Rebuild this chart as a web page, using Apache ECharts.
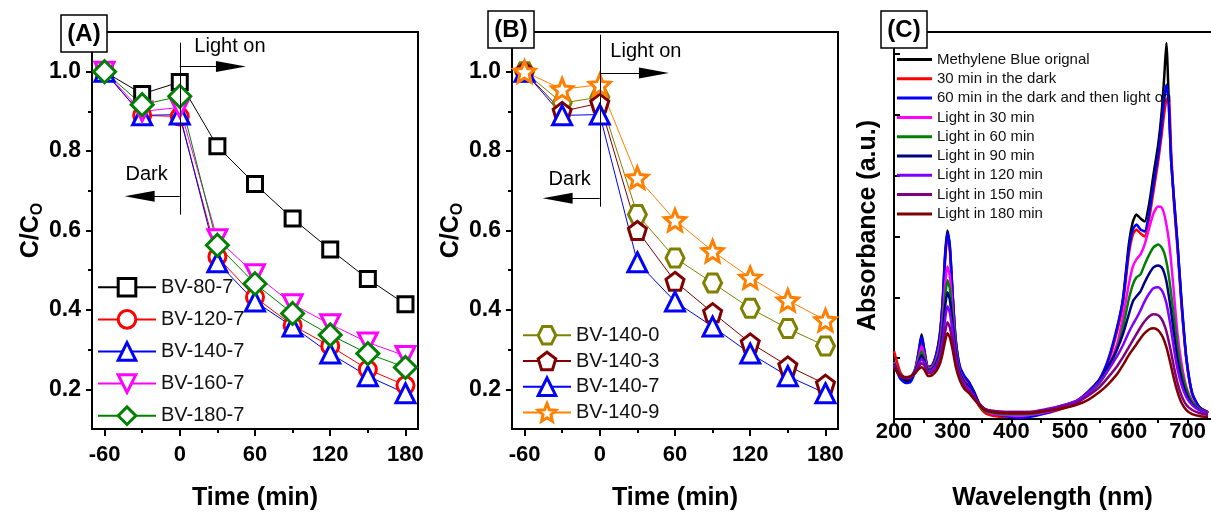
<!DOCTYPE html>
<html>
<head>
<meta charset="utf-8" />
<title>photocatalysis</title>
<script src="https://cdn.jsdelivr.net/npm/echarts@6/dist/echarts.min.js"></script>
<style>
  body { margin: 0; background: #fff; }
  #main { width: 1211px; height: 516px; }
</style>
</head>
<body>
<div id="main"></div>
<script type="text/javascript">
	// ---------- panel A / B : C/Co vs time ----------
	var timeMin = [-60, -30, 0, 30, 60, 90, 120, 150, 180];

	var bv80_7  = [1.0, 0.944, 0.974, 0.812, 0.717, 0.630, 0.552, 0.478, 0.414];
	var bv120_7 = [1.0, 0.890, 0.887, 0.534, 0.432, 0.361, 0.309, 0.250, 0.210];
	var bv140_7 = [1.0, 0.890, 0.892, 0.520, 0.421, 0.358, 0.290, 0.233, 0.190];
	var bv160_7 = [1.0, 0.900, 0.910, 0.578, 0.490, 0.414, 0.364, 0.318, 0.284];
	var bv180_7 = [1.0, 0.917, 0.938, 0.563, 0.466, 0.391, 0.337, 0.290, 0.255];

	var bv140_0 = [1.0, 0.921, 0.936, 0.640, 0.531, 0.468, 0.404, 0.353, 0.309];
	var bv140_3 = [1.0, 0.900, 0.921, 0.600, 0.472, 0.393, 0.317, 0.259, 0.213];
	var bv140_9 = [1.0, 0.956, 0.967, 0.733, 0.626, 0.548, 0.481, 0.424, 0.374];

	var timeTicks = [-60, 0, 60, 120, 180];
	var timeMinor = [-30, 30, 90, 150];
	var ratioTicks = [0.2, 0.4, 0.6, 0.8, 1.0];
	var ratioMinor = [0.3, 0.5, 0.7, 0.9];

	// ---------- panel C : UV-vis spectra ----------
	var wavelength = [200,210,220,228,236,242,247,252,258,265,272,278,283,287,291,295,300,305,312,320,328,336,345,355,370,
		390,410,430,460,490,510,530,550,565,580,590,600,607,613,620,627,635,642,650,656,660,664,668,672,677,683,690,698,708,720,735];

	var mbOriginal = [.58,.43,.38,.39,.50, .68,.85,.68,.52,.54, .65,.85,1.20,1.65,1.89, 1.75,1.25,.80,.52,.42, .36,.28,.16,.10,.07,
		.06,.05,.05,.07,.12, .17,.26,.39,.58,.90, 1.20,1.75,1.98,2.05,2.01, 1.98,2.17,2.45,2.75,3.08, 3.40,3.77,3.20,2.60,2.20, 1.75,1.15,.60,.25,.12, .07];
	var dark30 = [.68,.48,.40,.40,.49, .64,.79,.65,.51,.53, .63,.81,1.15,1.58,1.83, 1.70,1.22,.78,.50,.40, .33,.24,.13,.06,.03,
		.02,.03,.04,.06,.11, .16,.25,.38,.57,.88, 1.15,1.65,1.85,1.90,1.86, 1.83,2.02,2.28,2.58,2.85, 3.05,3.20,3.23,2.70,2.15, 1.70,1.12,.60,.25,.12, .06];
	var dark60 = [.55,.41,.36,.37,.48, .66,.83,.67,.51,.53, .64,.83,1.18,1.62,1.87, 1.73,1.23,.80,.53,.43, .37,.27,.15,.08,.05,
		.03,.01,.02,.06,.12, .17,.27,.40,.60,.92, 1.20,1.70,1.90,1.95,1.90, 1.88,2.08,2.35,2.65,2.95, 3.20,3.35,3.15,2.60,2.20, 1.75,1.17,.62,.26,.12, .06];
	var light30 = [.57,.45,.41,.42,.50, .62,.73,.63,.51,.52, .60,.75,1.02,1.35,1.53, 1.44,1.10,.73,.48,.38, .32,.24,.14,.08,.05,
		.04,.03,.04,.07,.12, .17,.25,.37,.52,.75, 1.02,1.35,1.53,1.60,1.65, 1.75,1.92,2.06,2.13,2.12, 2.06,1.95,1.80,1.58,1.25, .85,.55,.32,.18,.10, .06];
	var light60 = [.56,.45,.41,.42,.49, .59,.68,.60,.50,.51, .58,.70,.94,1.22,1.39, 1.31,1.02,.70,.47,.37, .31,.23,.14,.08,.06,
		.05,.05,.05,.08,.13, .17,.25,.36,.50,.70, .92,1.20,1.35,1.42,1.45, 1.55,1.65,1.72,1.75,1.72, 1.67,1.58,1.44,1.26,1.02, .72,.47,.30,.17,.10, .06];
	var light90 = [.55,.44,.40,.41,.48, .57,.64,.58,.49,.50, .56,.67,.87,1.12,1.27, 1.20,.95,.67,.46,.37, .32,.24,.15,.09,.07,
		.06,.06,.06,.09,.14, .18,.27,.39,.53,.70, .85,1.05,1.18,1.23,1.28, 1.37,1.46,1.52,1.54,1.52, 1.47,1.38,1.24,1.08,.85, .60,.40,.25,.15,.09, .06];
	var light120 = [.54,.44,.41,.42,.47, .55,.60,.56,.48,.49, .54,.63,.80,1.00,1.13, 1.07,.87,.63,.44,.35, .30,.23,.15,.10,.08,
		.07,.07,.07,.10,.14, .18,.26,.37,.49,.63, .74,.87,.95,1.01,1.09, 1.18,1.26,1.31,1.32,1.29, 1.24,1.16,1.04,.90,.70, .50,.34,.22,.14,.09, .06];
	var light150 = [.53,.43,.41,.42,.46, .52,.56,.53,.46,.47, .51,.59,.72,.87,.97, .92,.77,.58,.42,.33, .28,.22,.15,.10,.08,
		.07,.07,.07,.09,.13, .16,.23,.32,.42,.53, .62,.72,.79,.85,.92, .98,1.03,1.05,1.04,1.00, .95,.88,.78,.67,.52, .36,.23,.14,.09,.06, .04];
	var light180 = [.52,.44,.42,.43,.46, .50,.52,.49,.43,.44, .48,.55,.66,.78,.86, .82,.69,.53,.39,.30, .26,.20,.14,.09,.07,
		.06,.06,.06,.08,.11, .14,.19,.27,.35,.45, .54,.64,.70,.75,.81, .86,.90,.91,.89,.84, .79,.72,.63,.53,.40, .27,.16,.09,.05,.03, .02];

	var waveTicks = [200, 300, 400, 500, 600, 700];
	var waveAllTicks = [200, 250, 300, 350, 400, 450, 500, 550, 600, 650, 700];
	var absTicks = [0, 0.61, 1.22, 1.83, 2.44, 3.05, 3.66];

	var FONT = 'Liberation Sans, Arial, sans-serif';

	var hexagon = 'path://M-1,0 L-0.5,-0.866 L0.5,-0.866 L1,0 L0.5,0.866 L-0.5,0.866 Z';
	var pentagon = 'path://M0,-1 L0.951,-0.309 L0.588,0.809 L-0.588,0.809 L-0.951,-0.309 Z';
	var star = 'path://M0,-1 L0.264,-0.363 L0.951,-0.309 L0.427,0.139 L0.588,0.809 L0,0.45 L-0.588,0.809 L-0.427,0.139 L-0.951,-0.309 L-0.264,-0.363 Z';

	window.onload = function () {
		draw();
	};

	function pair(xs, ys) {
		var out = [];
		for (var i = 0; i < xs.length; i++) out.push([xs[i], ys[i]]);
		return out;
	}

	/************************ 散点折线 ************************/
	function kinetic(name, data, color, symbol, size, idx, rotate) {
		return {
			name: name,
			type: 'line',
			xAxisIndex: idx,
			yAxisIndex: idx,
			data: pair(timeMin, data),
			symbol: symbol,
			symbolSize: size,
			symbolRotate: rotate || 0,
			showAllSymbol: true,
			lineStyle: { color: color, width: 1 },
			itemStyle: { color: '#fff', borderColor: color, borderWidth: 3 },
			emphasis: { disabled: true },
			z: 3
		};
	}

	function spectrum(name, data, color) {
		return {
			name: name,
			type: 'line',
			xAxisIndex: 4,
			yAxisIndex: 4,
			data: pair(wavelength, data),
			showSymbol: false,
			symbol: 'none',
			smooth: 0.2,
			lineStyle: { color: color, width: 2.5 },
			itemStyle: { color: color },
			emphasis: { disabled: true }
		};
	}

	function timeAxis(grid) {
		return {
			type: 'value', gridIndex: grid, min: -70, max: 190, position: 'bottom',
			name: 'Time (min)', nameLocation: 'middle', nameGap: 57,
			nameTextStyle: { fontSize: 25, fontWeight: 'bold', color: '#000', fontFamily: FONT },
			axisLine: { onZero: false, lineStyle: { color: '#000', width: 2 } },
			axisTick: { customValues: timeTicks, length: 7, lineStyle: { color: '#000', width: 2 } },
			axisLabel: { customValues: timeTicks, margin: 15, fontSize: 22, fontWeight: 'bold', color: '#000', fontFamily: FONT },
			splitLine: { show: false }
		};
	}
	function timeMinorAxis(grid) {
		return {
			type: 'value', gridIndex: grid, min: -70, max: 190, position: 'bottom',
			axisLine: { show: false, onZero: false },
			axisTick: { customValues: timeMinor, length: 4, lineStyle: { color: '#000', width: 2 } },
			axisLabel: { show: false },
			splitLine: { show: false }
		};
	}
	function ratioAxis(grid) {
		return {
			type: 'value', gridIndex: grid, min: 0.1, max: 1.1, position: 'left',
			name: 'C/C{s|O}', nameLocation: 'middle', nameGap: 46,
			nameTextStyle: {
				fontSize: 25, fontWeight: 'bold', color: '#000', fontFamily: FONT,
				rich: { s: { fontSize: 16, fontWeight: 'bold', fontFamily: FONT, color: '#000', padding: [12, 0, 0, 0] } }
			},
			axisLine: { onZero: false, lineStyle: { color: '#000', width: 2 } },
			axisTick: { customValues: ratioTicks, length: 6, lineStyle: { color: '#000', width: 2 } },
			axisLabel: {
				customValues: ratioTicks, margin: 11, fontSize: 23, fontWeight: 'bold', color: '#000', fontFamily: FONT,
				formatter: function (v) { return v.toFixed(1); }
			},
			splitLine: { show: false }
		};
	}
	function ratioMinorAxis(grid) {
		return {
			type: 'value', gridIndex: grid, min: 0.1, max: 1.1, position: 'left',
			axisLine: { show: false, onZero: false },
			axisTick: { customValues: ratioMinor, length: 4, lineStyle: { color: '#000', width: 2 } },
			axisLabel: { show: false },
			splitLine: { show: false }
		};
	}

	function lightMarks(vTop, vBot, yOn, xOn, yDark, xDark, textOn, textDark) {
		return {
			markLine: {
				silent: true, animation: false,
				symbol: 'none',
				label: { show: false },
				lineStyle: { color: '#000', width: 1, type: 'solid' },
				emphasis: { disabled: true },
				data: [
					[{ coord: [0, vTop] }, { coord: [0, vBot] }],
					[{ coord: [0, yOn] }, { coord: [xOn, yOn], symbol: 'triangle', symbolSize: [11, 30] }],
					[{ coord: [0, yDark] }, { coord: [xDark, yDark], symbol: 'triangle', symbolSize: [11, 30] }]
				]
			},
			markPoint: {
				silent: true, animation: false,
				symbol: 'circle', symbolSize: 1,
				itemStyle: { color: 'rgba(0,0,0,0)', borderWidth: 0 },
				label: { show: true, position: 'inside', formatter: '{b}', color: '#000', fontSize: 20, fontFamily: FONT },
				data: [
					{ name: 'Light on', coord: textOn },
					{ name: 'Dark', coord: textDark }
				]
			}
		};
	}

	function panelLabel(txt, x, y) {
		return {
			type: 'group', x: x, y: y, z: 100,
			children: [
				{ type: 'rect', z: 100, shape: { x: 0, y: 0, width: 46, height: 37 }, style: { fill: '#fff', stroke: '#000', lineWidth: 1.5 } },
				{ type: 'text', z: 101, x: 23, y: 19, style: { text: txt, font: 'bold 24px ' + FONT, fill: '#000', align: 'center', verticalAlign: 'middle' } }
			]
		};
	}

	function draw() {
		var myChart = echarts.init(document.getElementById('main'), null, { renderer: 'canvas' });

		var sA = [
			kinetic('BV-80-7', bv80_7, '#000000', 'rect', 15, 0),
			kinetic('BV-120-7', bv120_7, '#ff0000', 'circle', 17, 0),
			kinetic('BV-140-7', bv140_7, '#0000ff', 'triangle', 19, 0),
			kinetic('BV-160-7', bv160_7, '#ff00ff', 'triangle', 19, 0, 180),
			kinetic('BV-180-7', bv180_7, '#008000', 'diamond', 22, 0)
		];
		var mA = lightMarks(1.073, 0.64, 1.013, 40.8, 0.686, -32, [40, 1.063], [-26.4, 0.741]);
		sA[0].markLine = mA.markLine;
		sA[0].markPoint = mA.markPoint;

		var sB = [
			kinetic('BV-140-0', bv140_0, '#808000', hexagon, 18, 2),
			kinetic('BV-140-3', bv140_3, '#800000', pentagon, 18, 2),
			kinetic('BV-140-7', bv140_7, '#0000ff', 'triangle', 19, 2),
			kinetic('BV-140-9', bv140_9, '#ff8000', star, 21, 2)
		];
		var mB = lightMarks(1.093, 0.66, 0.997, 43.2, 0.681, -33.6, [36.8, 1.05], [-24, 0.728]);
		sB[0].markLine = mB.markLine;
		sB[0].markPoint = mB.markPoint;

		var sC = [
			spectrum('Methylene Blue orignal', mbOriginal, '#000000'),
			spectrum('30 min in the dark', dark30, '#ff0000'),
			spectrum('60 min in the dark and then light on', dark60, '#0000ff'),
			spectrum('Light in 30 min', light30, '#ff00ff'),
			spectrum('Light in 60 min', light60, '#008000'),
			spectrum('Light in 90 min', light90, '#000080'),
			spectrum('Light in 120 min', light120, '#8000ff'),
			spectrum('Light in 150 min', light150, '#800080'),
			spectrum('Light in 180 min', light180, '#800000')
		];

		var option = {
			animation: false,
			backgroundColor: '#fff',
			textStyle: { fontFamily: FONT },
			grid: [
				{ left: 92, top: 32, width: 326, height: 398, show: true, borderColor: '#000', borderWidth: 2, backgroundColor: 'rgba(0,0,0,0)' },
				{ left: 512, top: 32, width: 326, height: 398, show: true, borderColor: '#000', borderWidth: 2, backgroundColor: 'rgba(0,0,0,0)' },
				{ left: 894, top: 32, width: 320, height: 388, show: false }
			],
			xAxis: [
				timeAxis(0), timeMinorAxis(0),
				timeAxis(1), timeMinorAxis(1),
				{
					type: 'value', gridIndex: 2, min: 200, max: 740, position: 'bottom',
					name: 'Wavelength (nm)', nameLocation: 'middle', nameGap: 67,
					nameTextStyle: { fontSize: 25, fontWeight: 'bold', color: '#000', fontFamily: FONT },
					axisLine: { onZero: false, lineStyle: { color: '#000', width: 2 } },
					axisTick: { customValues: waveAllTicks, length: 4, lineStyle: { color: '#000', width: 2 } },
					axisLabel: { customValues: waveTicks, margin: 2, fontSize: 22, fontWeight: 'bold', color: '#000', fontFamily: FONT },
					splitLine: { show: false }
				},
				{
					type: 'value', gridIndex: 2, min: 200, max: 740, position: 'top',
					axisLine: { onZero: false, lineStyle: { color: '#000', width: 2 } },
					axisTick: { show: false }, axisLabel: { show: false }, splitLine: { show: false }
				}
			],
			yAxis: [
				ratioAxis(0), ratioMinorAxis(0),
				ratioAxis(1), ratioMinorAxis(1),
				{
					type: 'value', gridIndex: 2, min: 0, max: 3.88, position: 'left',
					name: 'Absorbance (a.u.)', nameLocation: 'middle', nameGap: 13,
					nameTextStyle: { fontSize: 25, fontWeight: 'bold', color: '#000', fontFamily: FONT },
					axisLine: { onZero: false, lineStyle: { color: '#000', width: 2 } },
					axisTick: { customValues: absTicks, inside: true, length: 6, lineStyle: { color: '#000', width: 2 } },
					axisLabel: { show: false },
					splitLine: { show: false }
				}
			],
			legend: [
				{
					orient: 'vertical', left: 92, top: 272, itemWidth: 58, itemHeight: 22, itemGap: 11.5,
					selectedMode: false,
					itemStyle: { borderWidth: 3 },
					data: ['BV-80-7', 'BV-120-7', 'BV-140-7', 'BV-160-7', 'BV-180-7'],
					textStyle: { fontSize: 20, color: '#111', fontFamily: FONT }
				},
				{
					orient: 'vertical', left: 517, top: 320, itemWidth: 48, itemHeight: 22, itemGap: 5.1,
					selectedMode: false,
					itemStyle: { borderWidth: 3 },
					data: ['BV-140-0', 'BV-140-3', 'BV-140-7', 'BV-140-9'],
					textStyle: { fontSize: 20, color: '#111', fontFamily: FONT }
				},
				{
					orient: 'vertical', left: 892, top: 47, itemWidth: 35, itemHeight: 3, itemGap: 4.3, icon: 'rect',
					selectedMode: false,
					data: sC.map(function (s) { return s.name; }),
					textStyle: { fontSize: 15, color: '#111', fontFamily: FONT }
				}
			],
			graphic: [
				panelLabel('(A)', 61, 15),
				panelLabel('(B)', 488, 11),
				panelLabel('(C)', 881, 11)
			],
			series: sA.concat(sB).concat(sC)
		};
		myChart.setOption(option);
	}
</script>
</body>
</html>
